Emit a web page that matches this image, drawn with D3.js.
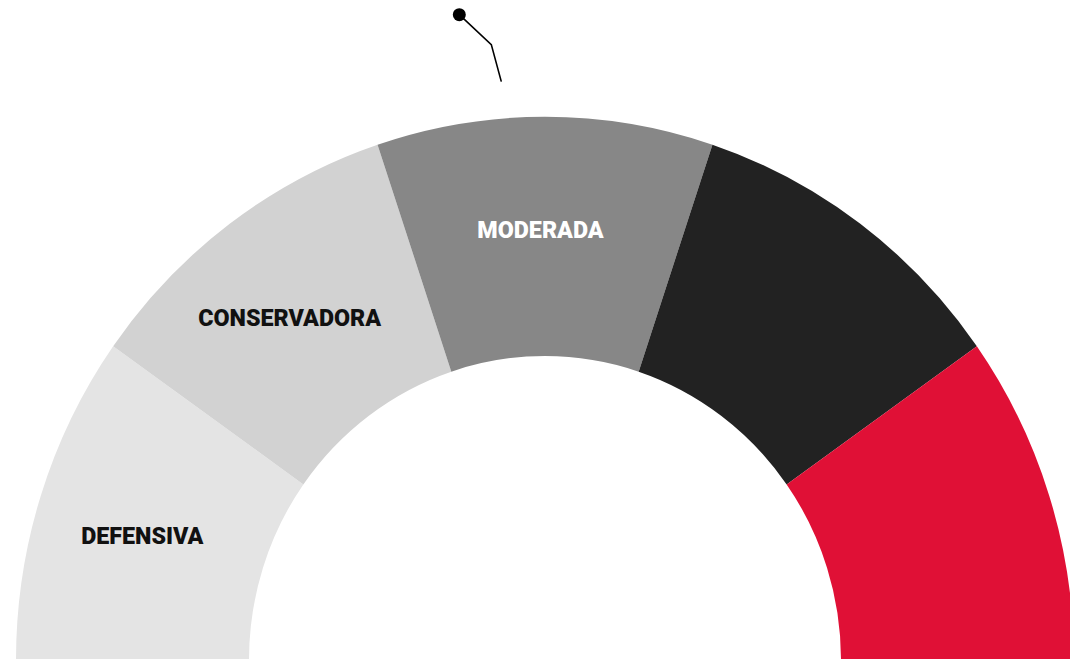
<!DOCTYPE html>
<html>
<head>
<meta charset="utf-8">
<script src="https://cdn.jsdelivr.net/npm/d3@7"></script>
<style>
  html, body { margin: 0; padding: 0; background: #fff; overflow: hidden; }
  svg { display: block; }
</style>
</head>
<body>
<svg id="chart" width="1070" height="659"></svg>
<script>
// ---- data ----
const categories = ["DEFENSIVA", "CONSERVADORA", "MODERADA", "DINÁMICA", "AGRESIVA"];
const segmentValues = [1, 1, 1, 1, 1];
const showLabel = [true, true, true, false, false];
const segmentColors = ["#e4e4e4", "#d2d2d2", "#878787", "#222222", "#e01036"];
const labelColors = ["#111111", "#111111", "#ffffff", "#ffffff", "#ffffff"];
const pointerValue = [47.6]; // on 0–100 gauge scale

// ---- layout ----
const W = 1070, H = 659;
const cx = 545, cy = 660;
const sy = 1.027;            // slight vertical stretch of the reference
const outerR = 529, innerR = 296;

const svg = d3.select("#chart");
const g = svg.append("g").attr("transform", `translate(${cx},${cy}) scale(1,${sy})`);

// map an apparent (on-screen) angle to the angle in the stretched space
const warp = phi => Math.abs(Math.abs(phi) - Math.PI / 2) < 1e-9 ? phi : Math.atan(sy * Math.tan(phi));

const pie = d3.pie().sort(null).value(d => d)
  .startAngle(-Math.PI / 2).endAngle(Math.PI / 2);
const arcs = pie(segmentValues).map(d => Object.assign({}, d, {
  startAngle: warp(d.startAngle), endAngle: warp(d.endAngle),
  midApparent: (d.startAngle + d.endAngle) / 2
}));

const arc = d3.arc().innerRadius(innerR).outerRadius(outerR);

g.selectAll("path.seg")
  .data(arcs)
  .join("path")
  .attr("class", "seg")
  .attr("d", arc)
  .attr("fill", (d, i) => segmentColors[i]);

// labels
const labelR = 421;
const labelShift = -0.6 * Math.PI / 180;
const lbl = svg.append("g");
arcs.forEach((d, i) => {
  if (!showLabel[i]) return;
  const a = warp(d.midApparent + labelShift);
  const x = labelR * Math.sin(a), y = -labelR * Math.cos(a) * sy;
  lbl.append("text")
    .attr("x", cx + x)
    .attr("y", cy + y + 2)
    .attr("text-anchor", "middle")
    .attr("dominant-baseline", "central")
    .attr("font-family", "Roboto, 'Noto Sans', sans-serif")
    .attr("font-weight", 900)
    .attr("font-size", 23.3)
    .attr("fill", labelColors[i])
    .text(categories[i]);
});

// pointer / leader
const angle = d3.scaleLinear().domain([0, 100]).range([-Math.PI / 2, Math.PI / 2]);
const phi = angle(pointerValue[0]);
const R0 = 580;
const p0 = [cx + R0 * Math.sin(phi), cy - R0 * Math.cos(phi)];
const p1 = [p0[0] - 10, p0[1] - 37];
const p2 = [p1[0] - 32, p1[1] - 30];
svg.append("path")
  .attr("d", d3.line()([p0, p1, p2]))
  .attr("fill", "none")
  .attr("stroke", "#000")
  .attr("stroke-width", 1.6);
svg.append("circle")
  .attr("cx", p2[0]).attr("cy", p2[1]).attr("r", 6.5)
  .attr("fill", "#000");
</script>
</body>
</html>
